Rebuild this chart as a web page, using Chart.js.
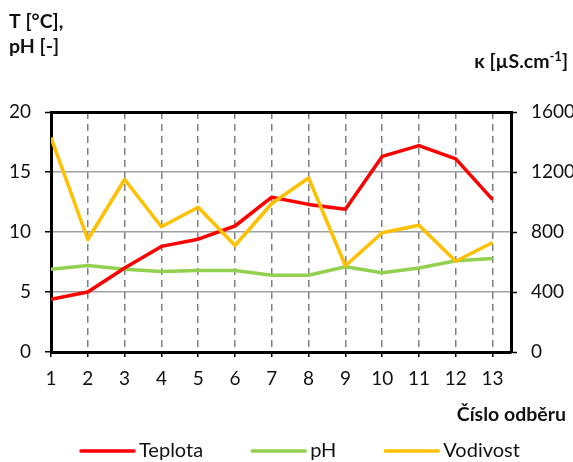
<!DOCTYPE html>
<html>
<head>
<meta charset="utf-8">
<script src="https://cdn.jsdelivr.net/npm/chart.js@4/dist/chart.umd.min.js"></script>
<style>
  html, body { margin: 0; padding: 0; background: #fff; }
  #wrap { position: relative; width: 573px; height: 462px; }
</style>
</head>
<body>
<div id="wrap"><canvas id="waterChart" width="573" height="462"></canvas></div>
<script>
// sample numbers (Číslo odběru)
const samples = [1, 2, 3, 4, 5, 6, 7, 8, 9, 10, 11, 12, 13];

// series
const teplota = [4.4, 5.0, 7.0, 8.8, 9.4, 10.5, 12.9, 12.3, 11.9, 16.3, 17.2, 16.1, 12.7];
const ph = [6.9, 7.2, 6.9, 6.7, 6.8, 6.8, 6.4, 6.4, 7.1, 6.6, 7.0, 7.6, 7.8];
const vodivost = [1430, 750, 1150, 835, 965, 710, 990, 1160, 575, 795, 845, 605, 730];

const seriesNames = ['Teplota', 'pH', 'Vodivost'];
const seriesColors = ['#ff0000', '#92d050', '#ffc000'];

const FONT = 'Lato, "Open Sans", sans-serif';
const TEXT = '#111';

// titles and legend, drawn on the canvas after the chart
const annotations = {
    id: 'annotations',
    afterDraw(chart) {
        const ctx = chart.ctx;
        ctx.save();
        ctx.fillStyle = TEXT;
        ctx.textBaseline = 'alphabetic';

        // left axis title
        ctx.font = 'bold 19.5px ' + FONT;
        ctx.textAlign = 'left';
        ctx.fillText('T [°C],', 9, 28);
        ctx.fillText('pH [-]', 9, 53);

        // right axis title with superscript
        const main = 'κ [µS.cm';
        const sup = '-1';
        const tail = ']';
        const big = 'bold 19.5px ' + FONT;
        const small = 'bold 13px ' + FONT;
        ctx.font = big;
        const wMain = ctx.measureText(main).width;
        const wTail = ctx.measureText(tail).width;
        ctx.font = small;
        const wSup = ctx.measureText(sup).width;
        const x = 568 - wMain - wSup - wTail;
        ctx.font = big;
        ctx.fillText(main, x, 68);
        ctx.font = small;
        ctx.fillText(sup, x + wMain, 61);
        ctx.font = big;
        ctx.fillText(tail, x + wMain + wSup, 68);

        // x axis title
        ctx.textAlign = 'right';
        ctx.fillText('Číslo odběru', 566, 421);

        // legend
        ctx.font = '20px ' + FONT;
        ctx.textAlign = 'left';
        ctx.textBaseline = 'middle';
        let lx = 81;
        const ly = 451;
        chart.data.datasets.forEach((ds) => {
            ctx.strokeStyle = ds.borderColor;
            ctx.lineWidth = 3.5;
            ctx.lineCap = 'round';
            ctx.beginPath();
            ctx.moveTo(lx, ly);
            ctx.lineTo(lx + 53, ly);
            ctx.stroke();
            ctx.fillText(ds.label, lx + 58, ly);
            lx += 58 + ctx.measureText(ds.label).width + 49;
        });
        ctx.restore();
    },
};

const tickFont = { family: FONT, size: 19 };

const config = {
    type: 'line',
    data: {
        labels: samples,
        datasets: [
            { label: seriesNames[0], data: teplota, borderColor: seriesColors[0], yAxisID: 'y', order: 1 },
            { label: seriesNames[1], data: ph, borderColor: seriesColors[1], yAxisID: 'y', order: 2 },
            { label: seriesNames[2], data: vodivost, borderColor: seriesColors[2], yAxisID: 'y1', order: 0 },
        ],
    },
    options: {
        responsive: false,
        animation: false,
        layout: { padding: { top: 112, left: 0, right: 0, bottom: 0 } },
        elements: {
            line: { borderWidth: 3.5, tension: 0, borderJoinStyle: 'round' },
            point: { radius: 0 },
        },
        plugins: {
            legend: { display: false },
            tooltip: { enabled: false },
        },
        scales: {
            x: {
                type: 'linear',
                min: 1,
                max: 13.5,
                afterFit: (scale) => { scale.height = 110; },
                ticks: {
                    stepSize: 1,
                    includeBounds: false,
                    color: TEXT,
                    font: tickFont,
                    padding: 10,
                    maxRotation: 0,
                    callback: (v) => String(v),
                },
                grid: {
                    color: '#808080',
                    lineWidth: 1.5,
                    tickColor: '#000',
                    tickLength: 5,
                    tickWidth: 1.5,
                },
                border: { display: true, color: '#000', width: 3, dash: [7, 5] },
            },
            y: {
                position: 'left',
                min: 0,
                max: 20,
                afterFit: (scale) => { scale.width = 51; },
                ticks: {
                    stepSize: 5,
                    color: TEXT,
                    font: tickFont,
                    padding: 14,
                    callback: (v) => String(v),
                },
                grid: {
                    color: (c) => (c.tick && c.tick.value === 20 ? '#000' : '#a0a0a0'),
                    lineWidth: (c) => (c.tick && c.tick.value === 20 ? 3 : 1.5),
                    tickColor: '#000',
                    tickLength: 6,
                    tickWidth: 1.5,
                },
                border: { display: true, color: '#000', width: 3 },
            },
            y1: {
                position: 'right',
                min: 0,
                max: 1600,
                afterFit: (scale) => { scale.width = 62; },
                ticks: {
                    stepSize: 400,
                    color: TEXT,
                    font: tickFont,
                    padding: 14,
                    callback: (v) => String(v),
                },
                grid: {
                    drawOnChartArea: false,
                    tickColor: '#000',
                    tickLength: 6,
                    tickWidth: 1.5,
                },
                border: { display: true, color: '#000', width: 3 },
            },
        },
    },
    plugins: [annotations],
};

const waterChart = new Chart(document.getElementById('waterChart'), config);
</script>
</body>
</html>
